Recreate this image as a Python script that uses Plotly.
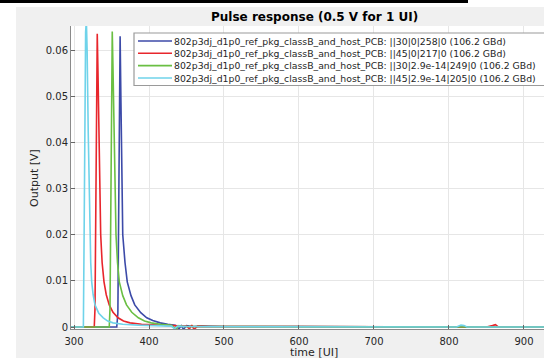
import plotly.graph_objects as go

# ---- data ----
names = [
    "802p3dj_d1p0_ref_pkg_classB_and_host_PCB: ||30|0|258|0 (106.2 GBd)",
    "802p3dj_d1p0_ref_pkg_classB_and_host_PCB: ||45|0|217|0 (106.2 GBd)",
    "802p3dj_d1p0_ref_pkg_classB_and_host_PCB: ||30|2.9e-14|249|0 (106.2 GBd)",
    "802p3dj_d1p0_ref_pkg_classB_and_host_PCB: ||45|2.9e-14|205|0 (106.2 GBd)",
]

t_blue = [296, 357, 358.5, 359.5, 360.5, 361.5, 362.5, 363.6, 365, 368, 371, 376, 381, 389, 397,
          405, 415, 425, 435, 440, 443, 446, 450, 454, 460, 470, 500, 600, 700, 800, 900, 930]
v_blue = [0, 0, 0.003, 0.025, 0.055, 0.0631, 0.05, 0.031, 0.02, 0.014, 0.0098, 0.0068, 0.0048,
          0.0031, 0.002, 0.0014, 0.0009, 0.0006, 0.0004, -0.0004, 0.0003, -0.0005, 0.0003, 0.0002,
          0.0001, 0.0002, 0.0001, 0.0001, 0, 0, 0, 0]

t_red = [296, 327, 328, 329, 330, 331, 332, 333.5, 334.7, 335.6, 337.5, 340, 343, 347, 352, 358.7,
         366, 374.7, 390, 410, 430, 450, 454, 457, 460, 465, 480, 600, 850, 858, 862, 866, 930]
v_red = [0, 0, 0.004, 0.03, 0.058, 0.0636, 0.055, 0.04, 0.031, 0.02, 0.014, 0.0098, 0.007, 0.0048,
         0.0032, 0.002, 0.0013, 0.0009, 0.0006, 0.0004, 0.0003, 0.0002, -0.0004, 0.0004, -0.0005,
         0.0002, 0.0001, 0.0001, 0, 0.0003, 0.0005, 0, 0]

t_green = [296, 347, 348, 349, 350, 351, 352, 353.5, 354.7, 356, 358, 360.4, 365, 370, 377, 385.8,
           394, 403, 415, 430, 436, 440, 445, 460, 600, 930]
v_green = [0, 0, 0.004, 0.03, 0.058, 0.0641, 0.056, 0.04, 0.031, 0.02, 0.014, 0.0098, 0.0068,
           0.0048, 0.0032, 0.002, 0.0013, 0.0009, 0.0006, 0.0004, -0.0005, 0.0003, 0.0001, 0.0001,
           0.0001, 0]

t_cyan = [296, 312.5, 313.5, 314.5, 315.5, 316.5, 317.5, 319, 320, 321.3, 322.3, 323.6, 325.5, 328,
          333, 339, 345, 352, 365, 385, 410, 430, 434, 438, 450, 810, 816, 820, 824, 930]
v_cyan = [0, 0, 0.02, 0.05, 0.064, 0.0665, 0.06, 0.042, 0.031, 0.02, 0.014, 0.0098, 0.007, 0.0048,
          0.003, 0.002, 0.0013, 0.0009, 0.0006, 0.0004, 0.0003, 0.0002, -0.0004, 0.0002, 0.0001,
          0, 0.0004, 0.0003, 0, 0]

x_ticks = [300, 400, 500, 600, 700, 800, 900]
y_ticks = [0, 0.01, 0.02, 0.03, 0.04, 0.05, 0.06]
y_tick_labels = ["0", "0.01", "0.02", "0.03", "0.04", "0.05", "0.06"]

colors = ["#3c4aa8", "#e8262c", "#6abf43", "#6fd3ea"]

# ---- layout geometry (pixels) ----
W, H = 544, 358
L, R, T, B = 71, 544, 26, 329
pw, ph = R - L, B - T


def px(xp):
    return (xp - L) / pw


def py(yp):
    return (B - yp) / ph


FONT = "DejaVu Sans"
GREY = "#f0f0f0"
fig = go.Figure()
series = [(t_blue, v_blue), (t_red, v_red), (t_green, v_green), (t_cyan, v_cyan)]
for (t, v), c, n in zip(series, colors, names):
    fig.add_trace(go.Scatter(x=t, y=v, mode="lines", name=n, showlegend=False,
                             line=dict(color=c, width=1.6)))


def rect(x0, x1, y0, y1, color, layer="below"):
    return dict(type="rect", xref="paper", yref="paper", x0=px(x0), x1=px(x1),
                y0=py(y1), y1=py(y0), fillcolor=color, line=dict(width=0), layer=layer)


shapes = [
    # grey figure frame around the (white) axes area
    rect(16, L, 7, H, GREY),
    rect(L, W, 7, T, GREY),
    rect(L, W, B, H, GREY),
    # black bar at the very top
    rect(0, 468, 0, 3, "black", layer="above"),
    # legend box
    dict(type="rect", xref="paper", yref="paper", x0=px(134), x1=px(W + 10), y0=py(85.5), y1=py(33),
         fillcolor="white", line=dict(color="#9a9a9a", width=1.2)),
]
annotations = [
    dict(text="<b>Pulse response (0.5 V for 1 UI)</b>", xref="paper", yref="paper",
         x=px(314), y=py(17), xanchor="center", yanchor="middle", showarrow=False,
         font=dict(family=FONT, size=12, color="black")),
    dict(text="time [UI]", xref="paper", yref="paper", x=px(314), y=py(352),
         xanchor="center", yanchor="middle", showarrow=False,
         font=dict(family=FONT, size=11, color="#262626")),
    dict(text="Output [V]", xref="paper", yref="paper", x=px(34), y=py(178),
         xanchor="center", yanchor="middle", showarrow=False, textangle=-90,
         font=dict(family=FONT, size=11, color="#262626")),
]
entry_y = [41, 53.3, 65.6, 78]
for yy, c, n in zip(entry_y, colors, names):
    shapes.append(dict(type="line", xref="paper", yref="paper", x0=px(138), x1=px(172),
                       y0=py(yy), y1=py(yy), line=dict(color=c, width=1.6)))
    annotations.append(dict(text=n, xref="paper", yref="paper", x=px(172), y=py(yy),
                            xanchor="left", yanchor="middle", showarrow=False,
                            font=dict(family=FONT, size=9.3, color="#262626")))

fig.update_layout(
    width=W, height=H,
    margin=dict(l=L, r=W - R, t=T, b=H - B, pad=0),
    paper_bgcolor="white",
    plot_bgcolor="white",
    showlegend=False,
    xaxis=dict(range=[296, 926.7], tickvals=x_ticks, ticks="inside", ticklen=4,
               tickcolor="#666", showline=True, linecolor="#8a8a8a", linewidth=1,
               showgrid=True, gridcolor="#e6e6e6", gridwidth=1, zeroline=False,
               ticklabelstandoff=3,
               tickfont=dict(family=FONT, size=10, color="#262626")),
    yaxis=dict(range=[-0.00043, 0.0653], tickvals=y_ticks, ticktext=y_tick_labels,
               ticks="inside", ticklen=4, tickcolor="#666", showline=True,
               linecolor="#8a8a8a", linewidth=1, showgrid=True, gridcolor="#e6e6e6",
               gridwidth=1, zeroline=False,
               tickfont=dict(family=FONT, size=10, color="#262626")),
    shapes=shapes,
    annotations=annotations,
)

fig.write_html("out.html", config={"displayModeBar": False},
               post_script="document.body.style.margin='0';")
